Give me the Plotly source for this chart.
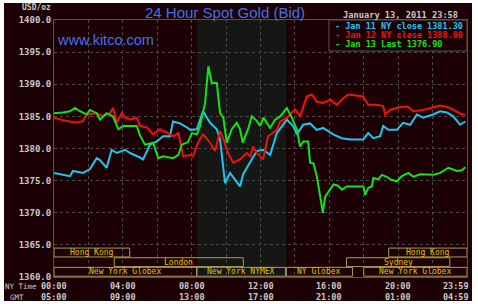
import plotly.graph_objects as go

# ---------------- data ----------------
cyan_t = [0.0, 0.93, 1.10, 1.69, 2.09, 2.48, 2.67, 3.06, 3.35, 3.65, 4.13, 4.42, 5.0, 5.17, 5.58, 5.97,
          6.34, 6.74, 6.92, 7.33, 7.72, 7.91, 8.30, 8.66, 9.07, 9.46, 9.65, 9.94, 10.23, 10.52, 10.81,
          10.99, 11.40, 11.78, 12.15, 12.56, 12.95, 13.53, 13.90, 14.11, 14.48, 14.88, 15.27, 15.64,
          16.22, 16.73, 17.21, 17.97, 18.26, 18.56, 18.95, 19.13, 19.42, 19.92, 20.29, 20.70, 21.09,
          21.45, 22.03, 22.44, 22.83, 23.20, 23.60, 23.90]
cyan_v = [1376.2, 1375.7, 1376.5, 1376.2, 1376.8, 1378.5, 1378.2, 1377.0, 1379.8, 1379.3, 1379.8, 1379.3,
          1378.6, 1378.3, 1380.6, 1381.1, 1381.9, 1381.9, 1384.2, 1383.9, 1383.3, 1382.9, 1383.0, 1385.8,
          1384.0, 1383.0, 1381.4, 1374.6, 1376.2, 1375.2, 1374.1, 1376.0, 1377.8, 1379.6, 1379.8, 1379.0,
          1382.4, 1384.5, 1383.5, 1382.2, 1383.7, 1383.9, 1382.9, 1383.2, 1382.2, 1381.6, 1381.4, 1381.4,
          1382.4, 1381.6, 1381.9, 1383.5, 1382.9, 1382.9, 1384.0, 1383.7, 1385.3, 1384.8, 1385.3, 1385.8,
          1385.6, 1385.0, 1383.7, 1384.2]

red_t = [0.0, 0.52, 1.32, 1.69, 1.90, 2.48, 2.85, 3.26, 3.43, 3.65, 3.94, 4.13, 4.42, 4.81, 5.0, 5.39,
         5.76, 6.16, 6.55, 6.92, 7.23, 7.50, 7.91, 8.08, 8.37, 8.66, 9.07, 9.36, 9.65, 9.84, 10.12,
         10.41, 10.81, 11.20, 11.40, 11.57, 11.78, 12.15, 12.44, 12.95, 13.14, 13.53, 14.01, 14.30,
         14.69, 14.98, 15.27, 15.64, 16.05, 16.44, 16.80, 17.09, 17.97, 18.26, 18.76, 19.13, 19.24,
         19.53, 19.92, 20.29, 20.58, 20.87, 21.45, 21.86, 22.44, 23.02, 23.41, 23.70, 23.90]
red_v = [1384.8, 1384.4, 1384.0, 1384.3, 1385.3, 1385.5, 1385.0, 1385.5, 1386.3, 1384.0, 1385.5, 1384.8,
         1384.5, 1384.8, 1383.5, 1383.3, 1382.2, 1383.0, 1382.5, 1381.9, 1382.4, 1378.8, 1379.0, 1378.8,
         1380.9, 1382.2, 1380.9, 1379.6, 1382.7, 1381.5, 1379.3, 1377.8, 1378.3, 1379.3, 1378.8, 1380.3,
         1379.3, 1378.3, 1381.9, 1382.9, 1384.2, 1384.8, 1386.1, 1385.0, 1388.1, 1388.4, 1387.3, 1387.1,
         1387.6, 1386.8, 1387.8, 1388.4, 1388.1, 1386.8, 1386.8, 1386.6, 1385.3, 1386.0, 1386.3, 1386.5,
         1386.5, 1385.8, 1386.0, 1386.3, 1386.7, 1386.3, 1385.8, 1385.3, 1385.3]

green_t = [0.0, 0.52, 0.93, 1.22, 1.51, 1.90, 2.09, 2.48, 2.67, 3.06, 3.43, 3.74, 4.01, 4.81, 5.0, 5.29,
           5.76, 6.06, 6.34, 6.92, 7.23, 7.42, 7.79, 8.01, 8.30, 8.49, 8.78, 8.97, 9.17, 9.46, 9.65, 9.84,
           10.04, 10.33, 10.62, 10.81, 10.97, 11.28, 11.49, 11.78, 11.98, 12.17, 12.56, 12.85, 13.14,
           13.53, 13.82, 14.11, 14.30, 14.49, 14.77, 14.88, 15.08, 15.27, 15.47, 15.62, 15.76, 16.05,
           16.24, 16.51, 16.73, 17.02, 17.21, 17.98, 18.08, 18.27, 18.47, 18.56, 18.84, 19.05, 19.34,
           19.53, 19.92, 20.22, 20.60, 20.89, 21.28, 21.67, 22.05, 22.44, 22.92, 23.41, 23.70, 23.90]
green_v = [1385.5, 1385.6, 1385.8, 1386.3, 1385.8, 1385.3, 1386.0, 1385.5, 1384.5, 1385.5, 1385.0, 1383.0,
           1383.5, 1383.5, 1382.0, 1380.6, 1380.9, 1378.5, 1378.8, 1378.5, 1379.0, 1380.6, 1381.0, 1382.4,
           1382.2, 1383.5, 1387.1, 1392.8, 1390.2, 1390.2, 1385.5, 1384.8, 1380.9, 1383.0, 1384.0, 1383.0,
           1380.9, 1383.0, 1385.0, 1384.3, 1383.5, 1384.8, 1383.2, 1384.5, 1385.0, 1386.3, 1384.8, 1383.0,
           1380.3, 1381.1, 1381.1, 1377.8, 1377.7, 1375.7, 1372.5, 1370.0, 1372.5, 1373.6, 1374.4, 1374.2,
           1373.6, 1374.1, 1374.1, 1374.1, 1372.8, 1373.9, 1374.1, 1375.4, 1375.2, 1375.9, 1375.6, 1375.2,
           1374.9, 1375.7, 1376.2, 1375.6, 1376.0, 1375.9, 1375.9, 1376.2, 1377.0, 1376.5, 1376.6, 1377.1]

series_names = ["Jan 11 NY close", "Jan 12 NY close", "Jan 13 Last"]
series_closes = [1381.30, 1388.00, 1376.90]

y_ticks = [1360, 1365, 1370, 1375, 1380, 1385, 1390, 1395, 1400]
x_tick_hours = [0, 4, 8, 12, 16, 20, 24]
ny_time_labels = ["00:00", "04:00", "08:00", "12:00", "16:00", "20:00", "23:59"]
gmt_labels = ["05:00", "09:00", "13:00", "17:00", "21:00", "01:00", "04:59"]

# sessions: (name, start hour, end hour, row)  row 0 = top
sessions = [
    ("Hong Kong", 0.0, 4.4, 0),
    ("Hong Kong", 19.45, 24.0, 0),
    ("London", 3.5, 11.0, 1),
    ("Sydney", 17.0, 23.0, 1),
    ("New York Globex", 0.0, 8.3, 2),
    ("New York NYMEX", 8.3, 13.45, 2),
    ("NY Globex", 13.5, 17.35, 2),
    ("New York Globex", 18.0, 24.0, 2),
]
ny_open, ny_close = 8.33, 13.5

# ---------------- style ----------------
BG = "#1d0205"
SHADE = "#141714"
GRID = "#4a4a4a"
TXT = "#c9c9c9"
MONO = "DejaVu Sans Mono"
colors = ["#22c4ee", "#f01010", "#18e018"]
SESS_LINE = "#a89a5a"
SESS_TXT = "#e8c000"

W, H = 478, 304
L, R, T, B = 54, 11, 20, 27
PW, PH = W - L - R, H - T - B


def px(x):
    return (x - L) / PW


def py(y):
    return (H - B - y) / PH


fig = go.Figure()
for t, v, c in zip([cyan_t, red_t, green_t], [cyan_v, red_v, green_v], colors):
    fig.add_trace(go.Scatter(x=t, y=v, mode="lines", line=dict(color=c, width=2),
                             showlegend=False, hoverinfo="skip"))

shapes = []
# outer dark panel (white thin frame around)
shapes.append(dict(type="rect", xref="paper", yref="paper", x0=px(4), x1=px(472), y0=py(301), y1=py(3),
                   fillcolor=BG, line=dict(width=0), layer="below"))
# NY session shading
shapes.append(dict(type="rect", xref="x", yref="y", x0=ny_open, x1=ny_close, y0=1360, y1=1400,
                   fillcolor=SHADE, line=dict(width=0), layer="below"))

row_tops = [1364.5, 1363.0, 1361.5]
row_h = 1.38
annotations = []
for name, s, e, r in sessions:
    top = row_tops[r]
    shapes.append(dict(type="rect", xref="x", yref="y", x0=s, x1=e, y0=top - row_h, y1=top,
                       line=dict(color=SESS_LINE, width=1), fillcolor="rgba(0,0,0,0)", layer="above"))
    annotations.append(dict(x=(s + e) / 2, y=top - row_h / 2, xref="x", yref="y", text=name,
                            showarrow=False, font=dict(family=MONO, size=8, color=SESS_TXT),
                            xanchor="center", yanchor="middle"))

# legend box
shapes.append(dict(type="rect", xref="paper", yref="paper", x0=px(329), x1=px(467), y0=py(51), y1=py(20),
                   fillcolor=BG, line=dict(color="#555555", width=1), layer="above"))
for i, (n, c, col) in enumerate(zip(series_names, series_closes, colors)):
    annotations.append(dict(x=px(333), y=py(26 + i * 9.2), xref="paper", yref="paper",
                            text=f"- {n} {c:.2f}", showarrow=False, xanchor="left", yanchor="middle",
                            font=dict(family=MONO, size=8.5, color=col, weight="bold")))

# x tick labels (two rows)
for h, a, g in zip(x_tick_hours, ny_time_labels, gmt_labels):
    xa = "right" if h == 24 else "center"
    xs = 4 if h == 24 else 0
    annotations.append(dict(x=h, y=py(286), xref="x", yref="paper", text=a, showarrow=False,
                            xanchor=xa, xshift=xs, yanchor="middle",
                            font=dict(family=MONO, size=8.5, color=TXT, weight="bold")))
    annotations.append(dict(x=h, y=py(297), xref="x", yref="paper", text=g, showarrow=False,
                            xanchor=xa, xshift=xs, yanchor="middle",
                            font=dict(family=MONO, size=8.5, color=TXT, weight="bold")))
annotations.append(dict(x=px(39), y=py(286), xref="paper", yref="paper", text="NY Time", showarrow=False,
                        xanchor="right", yanchor="middle", font=dict(family=MONO, size=7.5, color=TXT)))
annotations.append(dict(x=px(26), y=py(297), xref="paper", yref="paper", text="GMT", showarrow=False,
                        xanchor="right", yanchor="middle", font=dict(family=MONO, size=7.5, color=TXT)))

# texts
annotations.append(dict(x=px(20), y=py(8), xref="paper", yref="paper", text="USD/oz", showarrow=False,
                        xanchor="left", yanchor="middle",
                        font=dict(family=MONO, size=8, color=TXT, weight="bold")))
annotations.append(dict(x=px(225), y=py(12), xref="paper", yref="paper", text="24 Hour Spot Gold (Bid)",
                        showarrow=False, xanchor="center", yanchor="middle",
                        font=dict(family="Liberation Sans", size=15, color="#4470e6")))
annotations.append(dict(x=px(400), y=py(15), xref="paper", yref="paper", text="January 13, 2011 23:58",
                        showarrow=False, xanchor="center", yanchor="middle",
                        font=dict(family=MONO, size=8.7, color=TXT, weight="bold")))
annotations.append(dict(x=px(55), y=py(40), xref="paper", yref="paper", text="www.kitco.com",
                        showarrow=False, xanchor="left", yanchor="middle",
                        font=dict(family="Liberation Sans", size=14.5, color="#4470f0")))

fig.update_layout(
    width=W, height=H, margin=dict(l=L, r=R, t=T, b=B),
    paper_bgcolor="white", plot_bgcolor=BG,
    shapes=shapes, annotations=annotations, showlegend=False,
    xaxis=dict(range=[0, 24], tickvals=list(range(0, 25, 2)), showticklabels=False,
               showgrid=True, gridcolor=GRID, griddash="dot", gridwidth=1, zeroline=False,
               showline=True, linecolor="#555555", mirror=True, ticks=""),
    yaxis=dict(range=[1360, 1400], tickvals=y_ticks, tickformat=".1f",
               showgrid=True, gridcolor=GRID, griddash="dot", gridwidth=1, zeroline=False,
               showline=True, linecolor="#555555", mirror=True, ticks="",
               tickfont=dict(family=MONO, size=9, color=TXT, weight="bold")),
)

fig.write_html("out.html")
